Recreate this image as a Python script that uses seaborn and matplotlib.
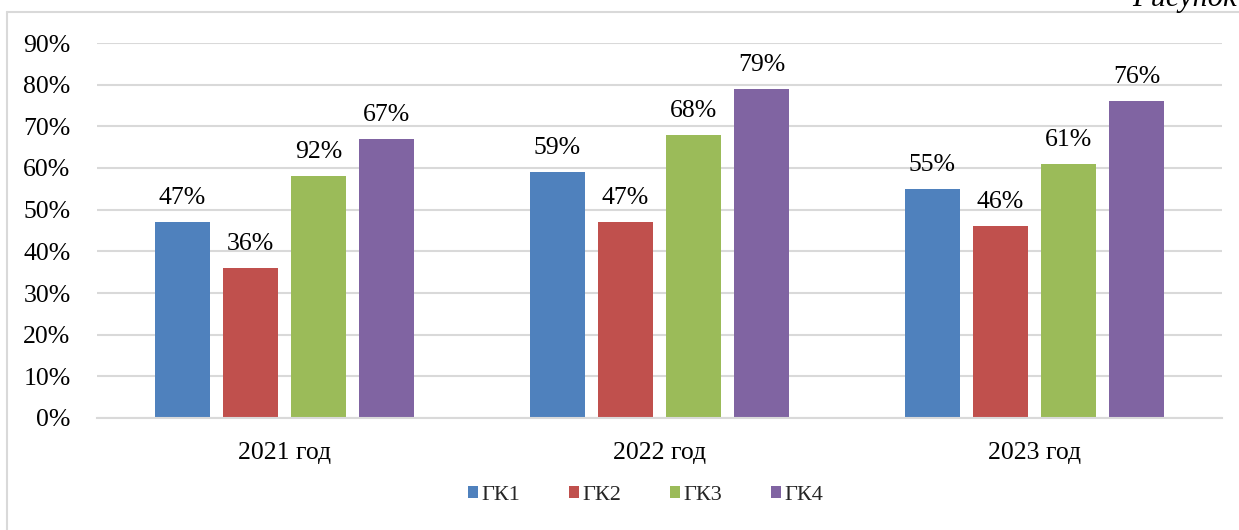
import matplotlib
matplotlib.use("Agg")
import matplotlib.pyplot as plt
from matplotlib.lines import Line2D
from matplotlib.patches import Patch
import seaborn as sns
import pandas as pd

years = ["2021 год", "2022 год", "2023 год"]
groups = ["ГК1", "ГК2", "ГК3", "ГК4"]
# bar heights (percent) per group, in year order
gk1 = [47, 59, 55]
gk2 = [36, 47, 46]
gk3 = [58, 68, 61]
gk4 = [67, 79, 76]
# data labels as printed on the chart
lbl_gk1 = ["47%", "59%", "55%"]
lbl_gk2 = ["36%", "47%", "46%"]
lbl_gk3 = ["92%", "68%", "61%"]
lbl_gk4 = ["67%", "79%", "76%"]
colors = ["#4F81BD", "#C0504D", "#9BBB59", "#8064A2"]
yticks = [0, 10, 20, 30, 40, 50, 60, 70, 80, 90]

series = [gk1, gk2, gk3, gk4]
labels = [lbl_gk1, lbl_gk2, lbl_gk3, lbl_gk4]
rows = []
for g, vals in zip(groups, series):
    for y, v in zip(years, vals):
        rows.append({"year": y, "group": g, "value": v})
df = pd.DataFrame(rows)

sns.set_theme(style="white")
plt.rcParams["font.family"] = ["Liberation Serif", "DejaVu Serif"]

fig = plt.figure(figsize=(12.39, 5.30), dpi=100)
ax = fig.add_axes([97 / 1239, 1 - 418 / 530, (1222 - 97) / 1239, (418 - 43) / 530])

sns.barplot(data=df, x="year", y="value", hue="group", order=years,
            hue_order=groups, palette=colors, width=0.726, gap=0.2,
            saturation=1, legend=False, ax=ax, errorbar=None,
            linewidth=0, edgecolor="none")

for cont, lbls in zip(ax.containers, labels):
    for bar, t in zip(cont, lbls):
        ax.annotate(t, (bar.get_x() + bar.get_width() / 2, bar.get_height()),
                    xytext=(0, 13), textcoords="offset points",
                    ha="center", va="baseline", fontsize=18.5, color="#000000")

ax.set_ylim(0, 90)
ax.set_yticks(yticks)
ax.set_yticklabels([f"{v}%" for v in yticks])
ax.set_xlim(-0.5, 2.5)
ax.yaxis.grid(True, color="#D9D9D9", linewidth=1.5)
ax.set_axisbelow(True)
for s in ["top", "right", "left"]:
    ax.spines[s].set_visible(False)
ax.spines["bottom"].set_color("#D9D9D9")
ax.spines["bottom"].set_linewidth(1.5)
ax.tick_params(axis="both", length=0, labelsize=18.5, colors="#000000")
ax.tick_params(axis="y", pad=19)
ax.tick_params(axis="x", pad=17)
ax.set_xlabel("")
ax.set_ylabel("")

handles = [Patch(facecolor=c, edgecolor="none") for c in colors]
fig.legend(handles, groups, loc="center", bbox_to_anchor=(0.521, 1 - 495 / 530),
           ncol=4, frameon=False, fontsize=16, handlelength=0.45,
           handleheight=0.45, handletextpad=0.15, columnspacing=2.2)

# surrounding frame of the chart area
fig.add_artist(Line2D([7 / 1239, 1], [1 - 12 / 530, 1 - 12 / 530],
                      transform=fig.transFigure, color="#D9D9D9", linewidth=1.5))
fig.add_artist(Line2D([7 / 1239, 7 / 1239], [0, 1 - 12 / 530],
                      transform=fig.transFigure, color="#D9D9D9", linewidth=1.5))

fig.text(1237 / 1239, 1 - 6 / 530, "Рисунок", ha="right", va="baseline",
         fontsize=22, style="italic", color="#000000")

fig.savefig("out.png", dpi=100)
